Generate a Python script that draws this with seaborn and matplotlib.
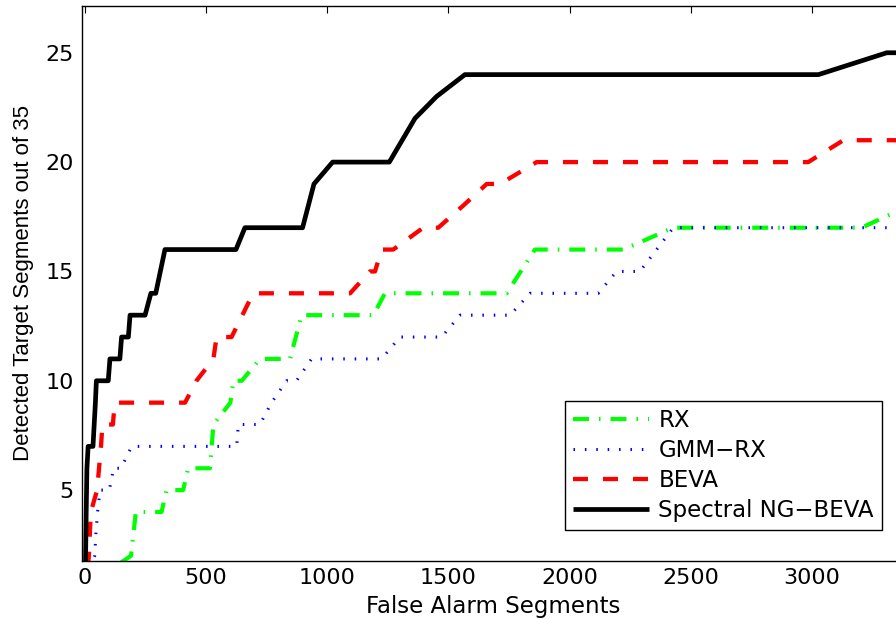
import matplotlib
matplotlib.use("Agg")
import matplotlib.pyplot as plt
import seaborn as sns
import pandas as pd

# ---- data ----
rx_x = [150, 190, 200, 210, 316, 337, 405, 426, 516, 530, 600, 612, 647, 722, 846, 870, 894,
        1190, 1238, 1740, 1857, 2222, 2428, 3205, 3400]
rx_y = [1.7, 2, 3, 4, 4, 5, 5, 6, 6, 8, 9, 10, 10, 11, 11, 12, 13,
        13, 14, 14, 16, 16, 17, 17, 18]

gmm_x = [0, 40, 45, 52, 62, 100, 110, 117, 150, 170, 193, 626, 633, 722, 770, 832, 873, 935,
         1224, 1300, 1472, 1548, 1754, 1837, 2118, 2194, 2290, 2428, 3400]
gmm_y = [1, 2, 3, 4, 5, 5, 5.5, 6, 6, 6.5, 7, 7, 8, 8, 9, 10, 10, 11,
         11, 12, 12, 13, 13, 14, 14, 15, 15, 17, 17]

beva_x = [12, 16, 24, 50, 58, 66, 72, 115, 123, 413, 460, 530, 543, 605, 694, 1094, 1176, 1197,
          1224, 1272, 1396, 1458, 1560, 1658, 1713, 1864, 2985, 3130, 3400]
beva_y = [1.5, 2, 4, 5, 6, 7, 8, 8, 9, 9, 10, 11, 12, 12, 14, 14, 15, 15,
          16, 16, 17, 17, 18, 19, 19, 20, 20, 21, 21]

ng_x = [2, 5, 8, 13, 33, 38, 43, 47, 96, 103, 144, 151, 179, 186, 248, 272, 292, 330, 623, 660,
        898, 945, 1022, 1256, 1362, 1451, 1568, 3027, 3309, 3400]
ng_y = [1.5, 4, 6, 7, 7, 8, 9, 10, 10, 11, 11, 12, 12, 13, 13, 14, 14, 16, 16, 17,
        17, 19, 20, 20, 22, 23, 24, 24, 25, 25]

labels = ["RX", "GMM\u2212RX", "BEVA", "Spectral NG\u2212BEVA"]
x_ticks = [0, 500, 1000, 1500, 2000, 2500, 3000]
y_ticks = [5, 10, 15, 20, 25]

# ---- style ----
sns.set_style("white")
plt.rcParams.update({
    "font.family": ["DejaVu Sans"],
    "text.color": "black",
    "axes.labelcolor": "black",
    "lines.scale_dashes": False,
    "xtick.direction": "in",
    "ytick.direction": "in",
    "xtick.top": True,
    "ytick.right": True,
    "xtick.major.size": 5.3,
    "ytick.major.size": 5.3,
    "xtick.major.width": 0.8,
    "ytick.major.width": 0.8,
    "axes.linewidth": 1.0,
    "axes.edgecolor": "black",
})

fig = plt.figure(figsize=(8.96, 6.2), dpi=100)
ax = fig.add_axes([0.0916, 0.0952, 0.9173, 0.8952])

series = [
    (rx_x, rx_y, "#00ff00", 3.0, (0, (11.5, 7.2, 1.1, 7.2))),
    (gmm_x, gmm_y, "#0000ff", 2.2, (0, (1.1, 7.1))),
    (beva_x, beva_y, "#ff0000", 3.1, (0, (10.8, 10.8))),
    (ng_x, ng_y, "#000000", 3.4, "-"),
]

for (xs, ys, col, lw, ls), lab in zip(series, labels):
    df = pd.DataFrame({"x": xs, "y": ys})
    sns.lineplot(data=df, x="x", y="y", ax=ax, color=col, linewidth=lw,
                 linestyle=ls, estimator=None, sort=False, label=lab,
                 solid_capstyle="butt", dash_capstyle="butt")

ax.set_xlim(-12, 3380)
ax.set_ylim(1.76, 27.14)
ax.set_xticks(x_ticks)
ax.set_yticks(y_ticks)
ax.tick_params(axis="both", labelsize=16, colors="black")
ax.tick_params(axis="x", pad=5)
ax.tick_params(axis="y", pad=6)
for s in ax.spines.values():
    s.set_visible(True)
    s.set_color("black")

ax.set_xlabel("False Alarm Segments", fontsize=16.5, labelpad=5, color="black")
ax.set_ylabel("Detected Target Segments out of 35", fontsize=16,
              family=["Liberation Sans", "DejaVu Sans"], labelpad=8, color="black")

handles, labs = ax.get_legend_handles_labels()
leg = ax.legend(handles, labs, loc="lower right",
                bbox_to_anchor=(882 / 896, 1 - 530 / 620),
                bbox_transform=fig.transFigure, borderaxespad=0,
                fontsize=16.5, handlelength=3.35, handletextpad=0.4,
                labelspacing=0.3, borderpad=0.35, fancybox=False,
                framealpha=1, edgecolor="black")
leg.get_frame().set_linewidth(1.0)
for t in leg.get_texts():
    t.set_color("black")

fig.savefig("out.png", dpi=100)
